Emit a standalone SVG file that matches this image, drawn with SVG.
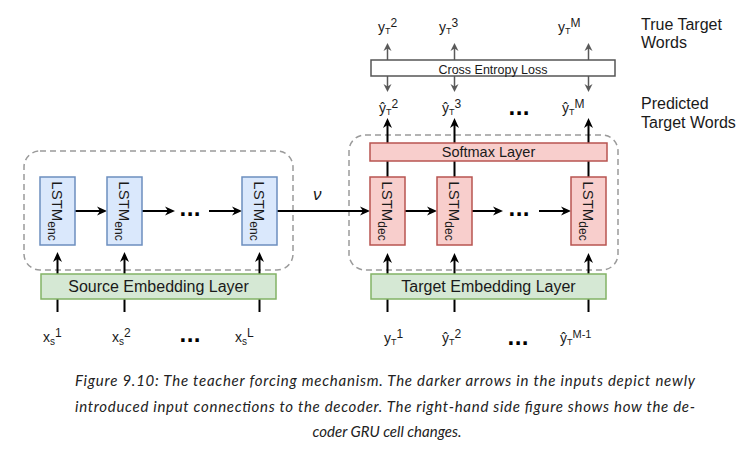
<svg xmlns="http://www.w3.org/2000/svg" width="754" height="449" viewBox="0 0 754 449">
<style>
text{font-family:"Liberation Sans",Arial,sans-serif;fill:#1a1a1a}
.cont{fill:none;stroke:#9a9a9a;stroke-width:1.5;stroke-dasharray:6 4}
.enc{fill:#dae8fc;stroke:#6c8ebf;stroke-width:1.5}
.dec{fill:#f8cecc;stroke:#b85450;stroke-width:1.5}
.emb{fill:#d5e8d4;stroke:#82b366;stroke-width:1.5}
.loss{fill:#ffffff;stroke:#555555;stroke-width:1.5}
.blk{stroke:#000;stroke-width:2;fill:none}
.gry{stroke:#595959;stroke-width:1.5;fill:none}
.lstm{font-size:15px}
.lab{font-size:14px}
.dots{font-family:"DejaVu Sans",sans-serif;font-weight:bold;font-size:19px;fill:#000}
.side{font-size:16px}
.cap{font-family:Lato,"Open Sans",sans-serif;font-style:italic;font-size:15px;fill:#222}
</style>
<defs>
<marker id="ab" markerUnits="userSpaceOnUse" markerWidth="12" markerHeight="10" viewBox="0 0 12 10" refX="5" refY="5" orient="auto">
<path d="M1,0.5 L11,5 L1,9.5 L4,5 z" fill="#000"/>
</marker>
<marker id="ag" markerUnits="userSpaceOnUse" markerWidth="10" markerHeight="10" viewBox="0 0 10 10" refX="4" refY="5" orient="auto">
<path d="M1,1 L9,5 L1,9 L3.5,5 z" fill="#595959"/>
</marker>
</defs>

<g id="encoder-container"><rect class="cont" x="24" y="151" width="269" height="119" rx="16"/></g>
<g id="decoder-container"><rect class="cont" x="349" y="135" width="269" height="135" rx="16"/></g>

<g id="connectors">
<line class="blk" x1="75" y1="211" x2="101" y2="211" marker-end="url(#ab)"/>
<line class="blk" x1="142" y1="211" x2="169" y2="211" marker-end="url(#ab)"/>
<line class="blk" x1="209" y1="211" x2="236" y2="211" marker-end="url(#ab)"/>
<line class="blk" x1="277" y1="211" x2="364" y2="211" marker-end="url(#ab)"/>
<line class="blk" x1="405" y1="211" x2="431" y2="211" marker-end="url(#ab)"/>
<line class="blk" x1="472" y1="211" x2="497" y2="211" marker-end="url(#ab)"/>
<line class="blk" x1="539" y1="211" x2="565" y2="211" marker-end="url(#ab)"/>
<line class="blk" x1="57.5" y1="312" x2="57.5" y2="258" marker-end="url(#ab)"/>
<line class="blk" x1="124.5" y1="312" x2="124.5" y2="258" marker-end="url(#ab)"/>
<line class="blk" x1="259.5" y1="312" x2="259.5" y2="258" marker-end="url(#ab)"/>
<line class="blk" x1="387.5" y1="312" x2="387.5" y2="259" marker-end="url(#ab)"/>
<line class="blk" x1="454.5" y1="312" x2="454.5" y2="259" marker-end="url(#ab)"/>
<line class="blk" x1="588.5" y1="312" x2="588.5" y2="259" marker-end="url(#ab)"/>
<line class="blk" x1="387.5" y1="177" x2="387.5" y2="124" marker-end="url(#ab)"/>
<line class="blk" x1="454.5" y1="177" x2="454.5" y2="124" marker-end="url(#ab)"/>
<line class="blk" x1="588.5" y1="177" x2="588.5" y2="124" marker-end="url(#ab)"/>
<line class="gry" x1="387.5" y1="60" x2="387.5" y2="48" marker-end="url(#ag)"/>
<line class="gry" x1="454.5" y1="60" x2="454.5" y2="48" marker-end="url(#ag)"/>
<line class="gry" x1="588.5" y1="60" x2="588.5" y2="48" marker-end="url(#ag)"/>
<line class="gry" x1="387.5" y1="76" x2="387.5" y2="87" marker-end="url(#ag)"/>
<line class="gry" x1="454.5" y1="76" x2="454.5" y2="87" marker-end="url(#ag)"/>
<line class="gry" x1="588.5" y1="76" x2="588.5" y2="87" marker-end="url(#ag)"/>
</g>

<g id="enc1"><rect class="enc" x="40" y="177" width="35" height="68"/>
<text class="lstm" text-anchor="middle" transform="translate(52,211) rotate(90)">LSTM<tspan font-size="12" dy="4">enc</tspan></text></g>
<g id="enc2"><rect class="enc" x="107" y="177" width="35" height="68"/>
<text class="lstm" text-anchor="middle" transform="translate(119,211) rotate(90)">LSTM<tspan font-size="12" dy="4">enc</tspan></text></g>
<g id="enc3"><rect class="enc" x="242" y="177" width="35" height="68"/>
<text class="lstm" text-anchor="middle" transform="translate(254,211) rotate(90)">LSTM<tspan font-size="12" dy="4">enc</tspan></text></g>

<g id="dec1"><rect class="dec" x="370" y="177" width="35" height="68"/>
<text class="lstm" text-anchor="middle" transform="translate(382,211) rotate(90)">LSTM<tspan font-size="12" dy="4">dec</tspan></text></g>
<g id="dec2"><rect class="dec" x="437" y="177" width="35" height="68"/>
<text class="lstm" text-anchor="middle" transform="translate(449,211) rotate(90)">LSTM<tspan font-size="12" dy="4">dec</tspan></text></g>
<g id="dec3"><rect class="dec" x="571" y="177" width="35" height="68"/>
<text class="lstm" text-anchor="middle" transform="translate(583,211) rotate(90)">LSTM<tspan font-size="12" dy="4">dec</tspan></text></g>

<g id="source-embedding"><rect class="emb" x="41" y="274" width="235" height="25"/>
<text x="158.5" y="292" font-size="16" text-anchor="middle">Source Embedding Layer</text></g>
<g id="target-embedding"><rect class="emb" x="371" y="274" width="235" height="25"/>
<text x="488.5" y="292" font-size="16" text-anchor="middle">Target Embedding Layer</text></g>
<g id="softmax"><rect class="dec" x="370" y="143" width="237" height="18"/>
<text x="488.5" y="157" font-size="14.5" text-anchor="middle">Softmax Layer</text></g>
<g id="loss"><rect class="loss" x="371" y="60" width="244" height="16"/>
<text x="493" y="74" font-size="12.5" text-anchor="middle">Cross Entropy Loss</text></g>

<g id="nu"><text x="313" y="200" font-family="'Liberation Serif',serif" font-style="italic" font-size="17">ν</text></g>

<g id="dots">
<text class="dots" x="190" y="216" text-anchor="middle">...</text>
<text class="dots" x="519" y="216" text-anchor="middle">...</text>
<text class="dots" x="190" y="342" text-anchor="middle">...</text>
<text class="dots" x="518" y="345" text-anchor="middle">...</text>
<text class="dots" x="519" y="115" text-anchor="middle">...</text>
</g>

<g id="source-inputs">
<text class="lab" x="43" y="342">x<tspan font-size="10" dy="3">s</tspan><tspan font-size="12" dy="-8">1</tspan></text>
<text class="lab" x="112" y="342">x<tspan font-size="10" dy="3">s</tspan><tspan font-size="12" dy="-8">2</tspan></text>
<text class="lab" x="235" y="342">x<tspan font-size="10" dy="3">s</tspan><tspan font-size="12" dy="-8">L</tspan></text>
</g>
<g id="target-inputs">
<text class="lab" x="384" y="343">y<tspan font-size="9" dy="2">T</tspan><tspan font-size="12" dy="-7">1</tspan></text>
<text class="lab" x="442" y="343">ŷ<tspan font-size="9" dy="2">T</tspan><tspan font-size="12" dy="-7">2</tspan></text>
<text class="lab" x="560" y="343">ŷ<tspan font-size="9" dy="2">T</tspan><tspan font-size="11" dy="-7">M-1</tspan></text>
</g>
<g id="predicted-words">
<text class="lab" x="379" y="113">ŷ<tspan font-size="9" dy="2">T</tspan><tspan font-size="12" dy="-7">2</tspan></text>
<text class="lab" x="442" y="113">ŷ<tspan font-size="9" dy="2">T</tspan><tspan font-size="12" dy="-7">3</tspan></text>
<text class="lab" x="562" y="113">ŷ<tspan font-size="9" dy="2">T</tspan><tspan font-size="12" dy="-7">M</tspan></text>
</g>
<g id="true-words">
<text class="lab" x="378" y="32">y<tspan font-size="9" dy="2">T</tspan><tspan font-size="12" dy="-7">2</tspan></text>
<text class="lab" x="439" y="32">y<tspan font-size="9" dy="2">T</tspan><tspan font-size="12" dy="-7">3</tspan></text>
<text class="lab" x="558" y="32">y<tspan font-size="9" dy="2">T</tspan><tspan font-size="12" dy="-7">M</tspan></text>
</g>

<g id="side-labels">
<text class="side" x="641" y="30">True Target</text>
<text class="side" x="641" y="48">Words</text>
<text class="side" x="641" y="109">Predicted</text>
<text class="side" x="641" y="128">Target Words</text>
</g>

<g id="caption">
<text class="cap" x="385" y="386" text-anchor="middle" textLength="620">Figure 9.10: The teacher forcing mechanism. The darker arrows in the inputs depict newly</text>
<text class="cap" x="385" y="412" text-anchor="middle" textLength="620">introduced input connections to the decoder. The right-hand side figure shows how the de-</text>
<text class="cap" x="387" y="437" text-anchor="middle">coder GRU cell changes.</text>
</g>
</svg>
